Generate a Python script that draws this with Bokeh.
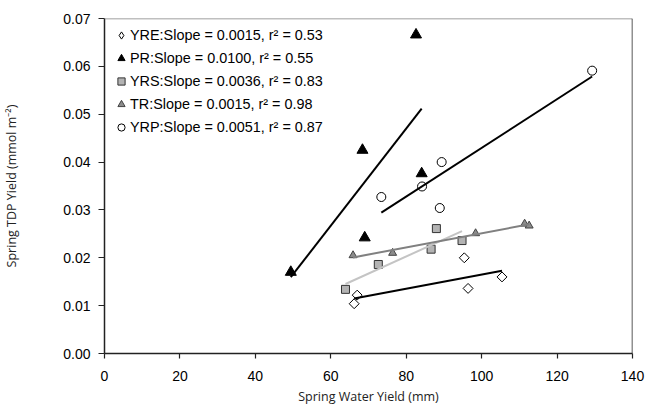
import numpy as np
from bokeh.plotting import figure
from bokeh.models import Range1d, FixedTicker, NumeralTickFormatter, Span, Legend, LegendItem
from bokeh.embed import file_html
from bokeh.resources import INLINE

# ---- data ----
yre_x = [66.2, 67.0, 95.4, 96.4, 105.4]
yre_y = [0.0104, 0.0122, 0.0200, 0.0136, 0.0160]
pr_x = [49.4, 68.4, 69.0, 82.6, 84.1]
pr_y = [0.0170, 0.0425, 0.0242, 0.0666, 0.0376]
yrs_x = [63.9, 72.6, 86.6, 88.0, 94.8]
yrs_y = [0.0134, 0.0186, 0.0218, 0.0261, 0.0236]
tr_x = [65.9, 76.4, 98.4, 111.4, 112.6]
tr_y = [0.0205, 0.0210, 0.0251, 0.0271, 0.0267]
yrp_x = [73.4, 84.2, 88.9, 89.4, 129.3]
yrp_y = [0.0327, 0.0349, 0.0304, 0.0400, 0.0591]

legend_labels = [
    "YRE:Slope = 0.0015, r\u00b2 = 0.53",
    "PR:Slope = 0.0100, r\u00b2 = 0.55",
    "YRS:Slope = 0.0036, r\u00b2 = 0.83",
    "TR:Slope = 0.0015, r\u00b2 = 0.98",
    "YRP:Slope = 0.0051, r\u00b2 = 0.87",
]
x_ticks = [0, 20, 40, 60, 80, 100, 120, 140]
y_ticks = [0.00, 0.01, 0.02, 0.03, 0.04, 0.05, 0.06, 0.07]

TICK_FONT = "Liberation Sans"
TITLE_FONT = "Open Sans"

p = figure(width=649, height=409, output_backend="svg", toolbar_location=None,
           x_range=Range1d(0, 140), y_range=Range1d(0, 0.07),
           min_border_left=102, min_border_right=17, min_border_top=18, min_border_bottom=56)
p.outline_line_color = None
p.xgrid.grid_line_color = None
p.ygrid.grid_line_color = None
p.background_fill_color = "white"

# axes
p.xaxis.ticker = FixedTicker(ticks=x_ticks)
p.yaxis.ticker = FixedTicker(ticks=y_ticks)
p.yaxis.formatter = NumeralTickFormatter(format="0.00")
for ax in (p.xaxis[0], p.yaxis[0]):
    ax.axis_line_color = "#222222"
    ax.axis_line_width = 1.5
    ax.major_tick_line_color = "#222222"
    ax.major_tick_line_width = 1.2
    ax.major_tick_in = 0
    ax.minor_tick_line_color = None
    ax.major_label_text_font = TICK_FONT
    ax.major_label_text_font_size = "14px"
    ax.major_label_text_color = "black"
    ax.axis_label_text_font = TITLE_FONT
    ax.axis_label_text_font_size = "12.5px"
    ax.axis_label_text_font_style = "normal"
    ax.axis_label_text_color = "#222222"
p.xaxis.major_tick_out = 5
p.xaxis.major_label_standoff = 12
p.xaxis.axis_label_standoff = 4
p.yaxis.major_tick_out = 6
p.yaxis.major_label_standoff = 8
p.yaxis.axis_label_standoff = 40
p.xaxis.axis_label = "Spring Water Yield (mm)"
p.yaxis.axis_label = "Spring TDP Yield (mmol m\u207b\u00b2)"

# plot-area border (top gray, right dark)
p.add_layout(Span(location=0.07, dimension="width", line_color="#808080", line_width=1.5))
p.add_layout(Span(location=140, dimension="height", line_color="#222222", line_width=1.5))

# markers
r_yre = p.scatter(yre_x, yre_y, marker="square", angle=np.pi / 4, size=7,
                  fill_color="white", line_color="black", line_width=1)
r_pr = p.scatter(pr_x, pr_y, marker="triangle", size=11,
                 fill_color="black", line_color="black", line_width=1)
r_yrs = p.scatter(yrs_x, yrs_y, marker="square", size=8,
                  fill_color="#b3b3b3", line_color="#333333", line_width=1)
r_tr = p.scatter(tr_x, tr_y, marker="triangle", size=8,
                 fill_color="#8c8c8c", line_color="#444444", line_width=1)
r_yrp = p.scatter(yrp_x, yrp_y, marker="circle", size=9,
                  fill_color="white", line_color="black", line_width=1)
# legend-only glyph for the diamond key (no data drawn)
r_yre_key = p.scatter([np.nan], [np.nan], marker="diamond", size=8,
                      fill_color="white", line_color="black", line_width=1)

# linear trend lines over each series' x range
def trend(xs, ys, color):
    m, b = np.polyfit(xs, ys, 1)
    lx = np.array([min(xs), max(xs)])
    p.line(lx, m * lx + b, line_color=color, line_width=2)

trend(yre_x, yre_y, "black")
trend(pr_x, pr_y, "black")
trend(yrs_x, yrs_y, "#c4c4c4")
trend(tr_x, tr_y, "#808080")
trend(yrp_x, yrp_y, "black")

legend = Legend(
    items=[LegendItem(label=l, renderers=[r]) for l, r in
           zip(legend_labels, [r_yre_key, r_pr, r_yrs, r_tr, r_yrp])],
    location=(8, 216),
    glyph_width=18, glyph_height=20, label_height=20, label_standoff=0,
    spacing=3, padding=0, margin=0,
    border_line_color=None, background_fill_alpha=0,
    label_text_font=TICK_FONT, label_text_font_size="14.4px", label_text_color="black",
)
p.add_layout(legend)

open("out.html", "w").write(file_html(p, INLINE))
